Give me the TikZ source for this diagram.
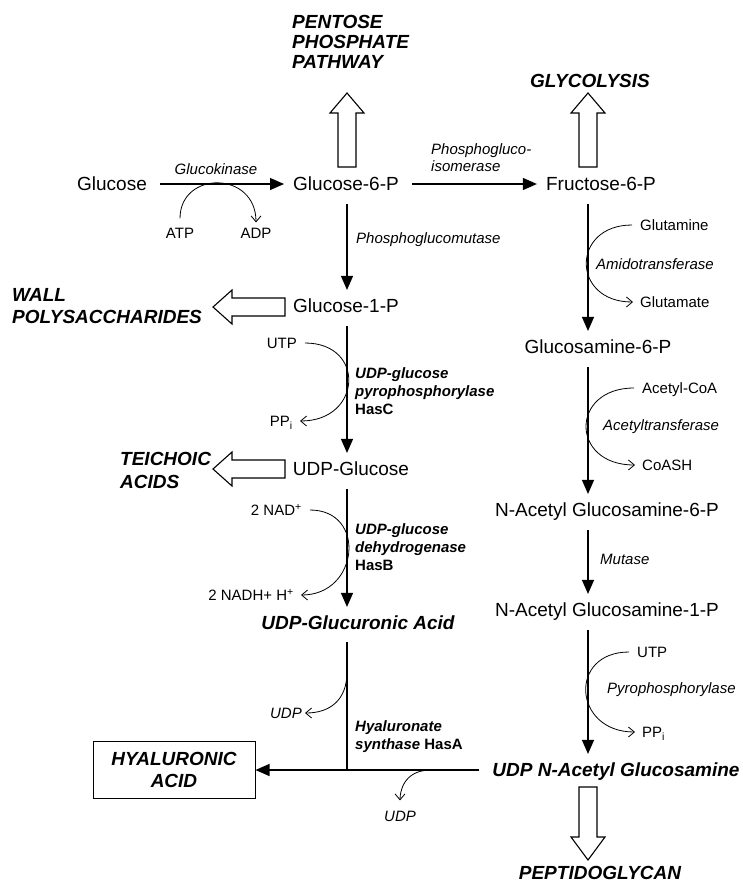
\documentclass[tikz,border=0pt]{standalone}
\usepackage{fontspec}
\setmainfont{Liberation Sans}
\usetikzlibrary{arrows.meta}
\tikzset{
  metab/.style={font=\fontsize{19}{21}\selectfont, text height=13.7pt, text depth=0pt, inner sep=0pt},
  outlet/.style={font=\fontsize{19}{21}\selectfont\bfseries\itshape, align=left, inner sep=0pt},
  enz/.style={font=\fontsize{15}{18}\selectfont\itshape, align=left, inner sep=0pt},
  cof/.style={font=\fontsize{15}{18}\selectfont, text height=10.7pt, text depth=0pt, inner sep=0pt},
  rx/.style={-{Triangle[length=14pt,width=12pt]}, line width=1.2pt, shorten <=13pt, shorten >=9pt},
  side/.style={-{Straight Barb[length=6pt,width=10pt]}, line width=0.8pt, shorten <=8pt, shorten >=7pt},
  hollow/.style={draw, line width=1.1pt, fill=white, line join=miter},
}
\begin{document}
\begin{tikzpicture}[x=1pt,y=-1pt]
\useasboundingbox (0,0) rectangle (743,886);
% columns of the two pathways
\coordinate (colL) at (347,0);
\coordinate (colR) at (588,0);

% metabolites
\node[metab] (glc) at (112,184) {Glucose};
\node[metab] (g6p) at (346,184) {Glucose-6-P};
\node[metab] (fru) at (601,184) {Fructose-6-P};
\node[metab] (g1p) at (346,306) {Glucose-1-P};
\node[metab] (udpg) at (351,469) {UDP-Glucose};
\node[metab,font=\fontsize{19}{21}\selectfont\bfseries\itshape] (udpga) at (358,623) {UDP-Glucuronic Acid};
\node[metab] (gln6p) at (598,347) {Glucosamine-6-P};
\node[metab] (nag6p) at (607,510) {N-Acetyl Glucosamine-6-P};
\node[metab] (nag1p) at (607,610) {N-Acetyl Glucosamine-1-P};
\node[metab,font=\fontsize{19}{21}\selectfont\bfseries\itshape] (udpnag) at (616,770) {UDP N-Acetyl Glucosamine};
\node[outlet,draw,line width=1pt,align=center,minimum width=162pt,minimum height=57pt,font=\fontsize{19}{22}\selectfont\bfseries\itshape] (hyal) at (174,770) {HYALURONIC\\ACID};

% other pathways
\node[outlet,font=\fontsize{19}{20}\selectfont\bfseries\itshape,anchor=west] (ppp) at (292,42) {PENTOSE\\PHOSPHATE\\PATHWAY};
\node[outlet] (glyc) at (590,81) {GLYCOLYSIS};
\node[outlet,font=\fontsize{19}{22}\selectfont\bfseries\itshape,anchor=west] (wall) at (12,306) {WALL\\POLYSACCHARIDES};
\node[outlet,font=\fontsize{19}{23}\selectfont\bfseries\itshape,anchor=west] (teich) at (120,470) {TEICHOIC\\ACIDS};
\node[outlet] (pept) at (600,873) {PEPTIDOGLYCAN};

% enzymes
\node[enz] (gk) at (216,169) {Glucokinase};
\node[enz,font=\fontsize{15}{17}\selectfont\itshape,anchor=west] (pgi) at (431,158) {Phosphogluco-\\isomerase};
\node[enz,anchor=west] (pgm) at (356,240) {Phosphoglucomutase};
\node[enz,anchor=west,font=\fontsize{15}{18}\selectfont\bfseries\itshape] (hasC) at (355,391) {UDP-glucose\\pyrophosphorylase\\\upshape HasC};
\node[enz,anchor=west,font=\fontsize{15}{18}\selectfont\bfseries\itshape] (hasB) at (355,547) {UDP-glucose\\dehydrogenase\\\upshape HasB};
\node[enz,anchor=west,font=\fontsize{15}{18}\selectfont\bfseries\itshape] (hasA) at (355,737) {Hyaluronate\\synthase \upshape HasA};
\node[enz,anchor=west] (amido) at (596,264) {Amidotransferase};
\node[enz,anchor=west] (actr) at (603,427) {Acetyltransferase};
\node[enz,anchor=west] (mut) at (600,559) {Mutase};
\node[enz,anchor=west] (pyro) at (607,690) {Pyrophosphorylase};

% cofactors
\node[cof] (atp) at (180,233) {ATP};
\node[cof] (adp) at (256,233) {ADP};
\node[cof,anchor=east] (utp1) at (297,343) {UTP};
\node[cof,anchor=east] (ppi1) at (293,421) {PP\textsubscript{i}};
\node[cof,anchor=east] (nad) at (302,510) {2 NAD\textsuperscript{+}};
\node[cof,anchor=east] (nadh) at (294,595) {2 NADH+ H\textsuperscript{+}};
\node[cof,anchor=east,font=\fontsize{15}{18}\selectfont\itshape] (udp1) at (302,713) {UDP};
\node[cof,font=\fontsize{15}{18}\selectfont\itshape] (udp2) at (400,816) {UDP};
\node[cof,anchor=west] (gln) at (640,225) {Glutamine};
\node[cof,anchor=west] (glu) at (640,302) {Glutamate};
\node[cof,anchor=west] (acoa) at (642,388) {Acetyl-CoA};
\node[cof,anchor=west] (coash) at (642,465) {CoASH};
\node[cof,anchor=west] (utp2) at (637,652) {UTP};
\node[cof,anchor=west] (ppi2) at (642,732) {PP\textsubscript{i}};

% main reactions
\draw[rx] (glc) -- (g6p);
\draw[rx] (g6p) -- (fru);
\draw[rx] (g6p.south -| colL) -- (g1p.north -| colL);
\draw[rx] (g1p.south -| colL) -- (udpg.north -| colL);
\draw[rx] (udpg.south -| colL) -- (udpga.north -| colL);
\draw[rx] (fru.south -| colR) -- (gln6p.north -| colR);
\draw[rx] (gln6p.south -| colR) -- (nag6p.north -| colR);
\draw[rx] (nag6p.south -| colR) -- (nag1p.north -| colR);
\draw[rx] (nag1p.south -| colR) -- (udpnag.north -| colR);
\draw[line width=1.2pt, shorten <=12pt] (udpga.south -| colL) -- (colL |- hyal.east);
\draw[rx, shorten >=0pt] (udpnag.west) -- (hyal.east);

% cofactor loops
\draw[side, shorten <=9pt, shorten >=5pt] (atp.north) .. controls +(0,-57) and +(0,-57) .. (adp.north);
\draw[side] (utp1.east) .. controls +(69,0) and +(69,0) .. (ppi1.east);
\draw[side] (nad.east) .. controls +(65,0) and +(65,0) .. (nadh.east);
\draw[side] (gln.west) .. controls +(-69,0) and +(-69,0) .. (glu.west);
\draw[side] (acoa.west) .. controls +(-72,0) and +(-72,0) .. (coash.west);
\draw[side] (utp2.west) .. controls +(-69,0) and +(-69,0) .. (ppi2.west);
\coordinate (rel1) at (347,672);
\coordinate (rel2) at (431,770);
\draw[side, shorten <=0pt, shorten >=3pt] (rel1) .. controls +(0,28) and +(28,0) .. (udp1.east);
\draw[side, shorten <=0pt, shorten >=10pt] (rel2) .. controls +(-28,0) and +(0,-18) .. (udp2.north);

% hollow arrows to other pathways
\foreach \x in {347,588}
\draw[hollow, shift={(\x,167)}] (-9,0) -- (-9,-54) -- (-17,-54) -- (0,-74) -- (17,-54) -- (9,-54) -- (9,0) -- cycle;
\foreach \y in {307,469}
\draw[hollow, shift={(285,\y)}] (0,-9) -- (-53,-9) -- (-53,-17) -- (-72,0) -- (-53,17) -- (-53,9) -- (0,9) -- cycle;
\draw[hollow, shift={(588,787)}] (-9,0) -- (-9,50) -- (-17,50) -- (0,73) -- (17,50) -- (9,50) -- (9,0) -- cycle;
\end{tikzpicture}
\end{document}
